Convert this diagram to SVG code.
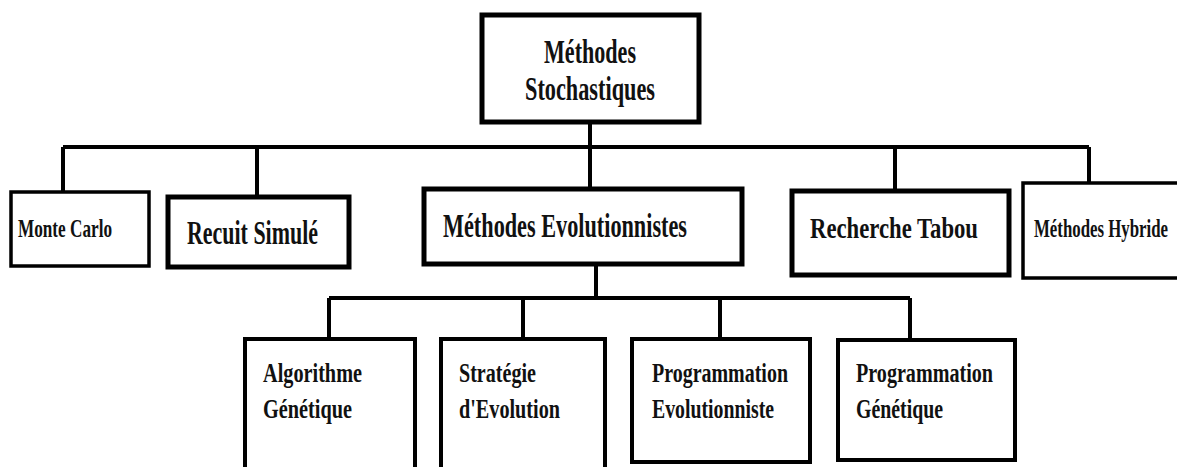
<svg xmlns="http://www.w3.org/2000/svg" width="1177" height="467" viewBox="0 0 1177 467">
  <style>
    .box { fill: #ffffff; stroke: #000000; }
    .thick { stroke-width: 5; }
    .mid { stroke-width: 4; }
    .thin { stroke-width: 3.5; }
    .lbl { font-family: "Liberation Serif", "Times New Roman", serif; font-weight: bold; fill: #111111; }
    .wire { fill: none; stroke: #000000; stroke-width: 4; }
  </style>
  <rect width="1177" height="467" fill="#ffffff"/>

  <!-- connectors -->
  <g id="connectors">
    <path class="wire" d="M590,122 V147"/>
    <path class="wire" d="M63,147 H1089"/>
    <path class="wire" d="M63,147 V192"/>
    <path class="wire" d="M257,147 V197"/>
    <path class="wire" d="M590,147 V189"/>
    <path class="wire" d="M895,147 V191"/>
    <path class="wire" d="M1089,147 V193"/>
    <path class="wire" d="M596,264 V298"/>
    <path class="wire" d="M329,298 H910"/>
    <path class="wire" d="M329,298 V339"/>
    <path class="wire" d="M523,298 V339"/>
    <path class="wire" d="M720,298 V339"/>
    <path class="wire" d="M910,298 V340"/>
  </g>

  <!-- root -->
  <g id="stochastiques">
    <rect class="box thick" x="482" y="15" width="217" height="107"/>
    <text class="lbl" font-size="34" x="544" y="63" textLength="92" lengthAdjust="spacingAndGlyphs">Méthodes</text>
    <text class="lbl" font-size="34" x="525" y="100" textLength="130" lengthAdjust="spacingAndGlyphs">Stochastiques</text>
  </g>

  <!-- first level -->
  <g id="monte-carlo">
    <rect class="box thin" x="11" y="192" width="138" height="74"/>
    <text class="lbl" font-size="26" x="18" y="237" textLength="94" lengthAdjust="spacingAndGlyphs">Monte Carlo</text>
  </g>

  <g id="recuit-simule">
    <rect class="box thick" x="168" y="197" width="181" height="70"/>
    <text class="lbl" font-size="33" x="187" y="244" textLength="131" lengthAdjust="spacingAndGlyphs">Recuit Simulé</text>
  </g>

  <g id="evolutionnistes">
    <rect class="box thick" x="424" y="189" width="318" height="75"/>
    <text class="lbl" font-size="33" x="443" y="237" textLength="244" lengthAdjust="spacingAndGlyphs">Méthodes Evolutionnistes</text>
  </g>

  <g id="recherche-tabou">
    <rect class="box thick" x="792" y="191" width="217" height="84"/>
    <text class="lbl" font-size="30" x="810" y="238" textLength="168" lengthAdjust="spacingAndGlyphs">Recherche Tabou</text>
  </g>

  <!-- this box runs on past the right edge, so its right side is not drawn;
       the label is set small and stretched vertically to stay narrow -->
  <g id="hybride">
    <path class="box thin" d="M1177,183 H1023 V278 H1177"/>
    <text class="lbl" font-size="17" x="1034" y="158" textLength="134" lengthAdjust="spacingAndGlyphs" transform="scale(1,1.5)">Méthodes Hybride</text>
  </g>

  <!-- second level -->
  <g id="algorithme-genetique">
    <rect class="box mid" x="245" y="339" width="170" height="140"/>
    <text class="lbl" font-size="27" x="263" y="382" textLength="99" lengthAdjust="spacingAndGlyphs">Algorithme</text>
    <text class="lbl" font-size="27" x="263" y="418" textLength="89" lengthAdjust="spacingAndGlyphs">Génétique</text>
  </g>

  <g id="strategie-evolution">
    <rect class="box mid" x="441" y="339" width="164" height="140"/>
    <text class="lbl" font-size="27" x="459" y="382" textLength="77" lengthAdjust="spacingAndGlyphs">Stratégie</text>
    <text class="lbl" font-size="27" x="459" y="418" textLength="101" lengthAdjust="spacingAndGlyphs">d'Evolution</text>
  </g>

  <g id="programmation-evolutionniste">
    <rect class="box mid" x="632" y="339" width="178" height="123"/>
    <text class="lbl" font-size="27" x="652" y="382" textLength="136" lengthAdjust="spacingAndGlyphs">Programmation</text>
    <text class="lbl" font-size="27" x="652" y="418" textLength="122" lengthAdjust="spacingAndGlyphs">Evolutionniste</text>
  </g>

  <g id="programmation-genetique">
    <rect class="box mid" x="838" y="340" width="177" height="120"/>
    <text class="lbl" font-size="27" x="856" y="382" textLength="137" lengthAdjust="spacingAndGlyphs">Programmation</text>
    <text class="lbl" font-size="27" x="856" y="418" textLength="87" lengthAdjust="spacingAndGlyphs">Génétique</text>
  </g>
</svg>
